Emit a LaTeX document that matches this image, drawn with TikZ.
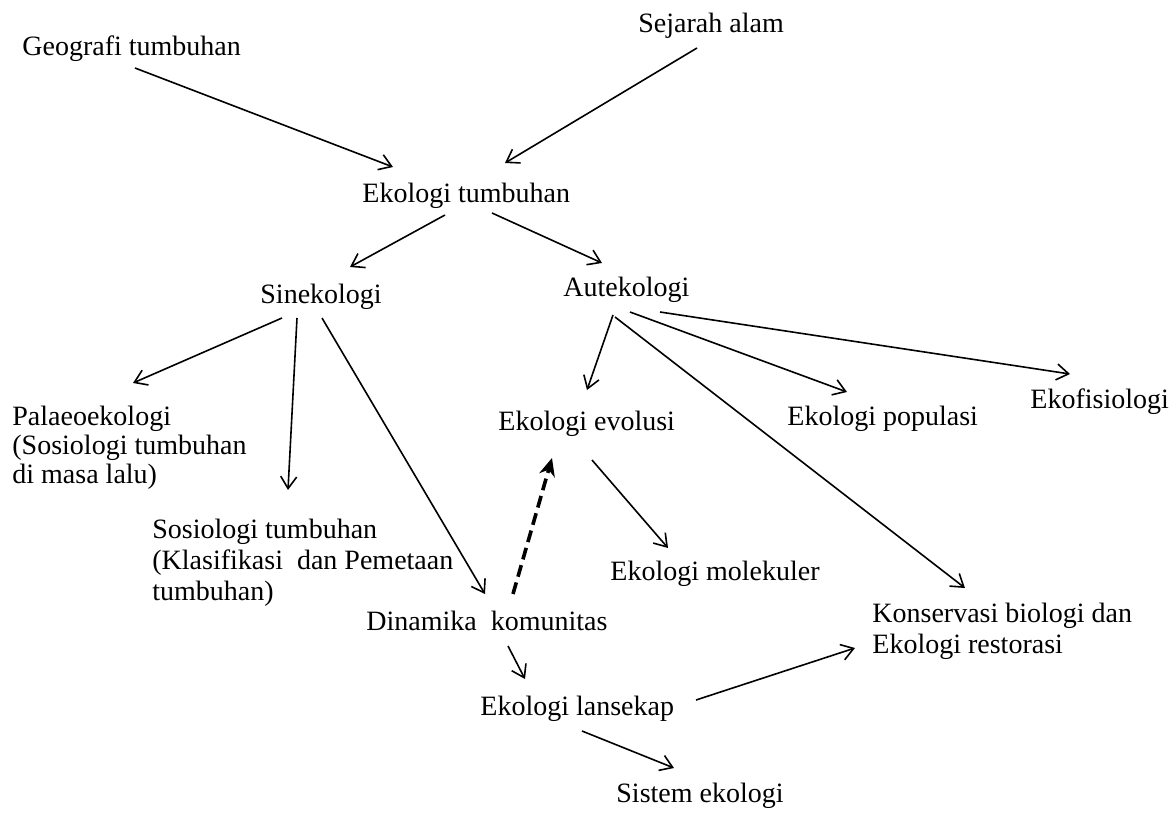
\documentclass[tikz,border=0pt]{standalone}
\usepackage{fontspec}
\setmainfont{Liberation Serif}
\usetikzlibrary{arrows.meta}

\begin{document}
\begin{tikzpicture}
[x=0.5pt, y=-0.5pt,
 txt/.style={inner sep=0pt, anchor=base west, align=left, font=\fontsize{14}{14.5}\selectfont},
 >={Straight Barb[length=6pt,width=8pt]}]

\useasboundingbox (0,0) rectangle (1175,814);

%Nodes (multi-line nodes sit on their last line)
\node[txt] (geografi) at (22,55) {Geografi tumbuhan};
\node[txt] (sejarah) at (638,32) {Sejarah alam};
\node[txt] (ekotumbuhan) at (362,202) {Ekologi tumbuhan};
\node[txt] (sinekologi) at (260,303) {Sinekologi};
\node[txt] (autekologi) at (563,296) {Autekologi};
\node[txt] (palaeo) at (12,483) {Palaeoekologi\\(Sosiologi tumbuhan\\di masa lalu)};
\node[txt] (evolusi) at (498,430) {Ekologi evolusi};
\node[txt] (populasi) at (787,425) {Ekologi populasi};
\node[txt] (ekofis) at (1030,408) {Ekofisiologi};
\node[txt] (sosiologi) at (152,600) {Sosiologi tumbuhan\\[1pt](Klasifikasi\ \ dan Pemetaan\\[1pt]tumbuhan)};
\node[txt] (molekuler) at (610,580) {Ekologi molekuler};
\node[txt] (dinamika) at (366,630) {Dinamika\ \ komunitas};
\node[txt] (konservasi) at (872,653) {Konservasi biologi dan\\[1pt]Ekologi restorasi};
\node[txt] (lansekap) at (480,715) {Ekologi lansekap};
\node[txt] (sistem) at (616,802) {Sistem ekologi};

%Lines
\draw[->, thick] ([shift={(113,13)}]geografi.base west) -- ([shift={(31,-35)}]ekotumbuhan.base west);
\draw[->, thick] ([shift={(59,16)}]sejarah.base west) -- ([shift={(143,-39)}]ekotumbuhan.base west);
\draw[->, thick] ([shift={(83,13)}]ekotumbuhan.base west) -- ([shift={(90,-36)}]sinekologi.base west);
\draw[->, thick] ([shift={(130,11)}]ekotumbuhan.base west) -- ([shift={(39,-33)}]autekologi.base west);
\draw[->, thick] ([shift={(22,15)}]sinekologi.base west) -- ([shift={(121,-100)}]palaeo.base west);
\draw[->, thick] ([shift={(37,15)}]sinekologi.base west) -- ([shift={(136,-110)}]sosiologi.base west);
\draw[->, thick] ([shift={(62,15)}]sinekologi.base west) -- ([shift={(119,-36)}]dinamika.base west);
\draw[->, thick] ([shift={(50,19)}]autekologi.base west) -- ([shift={(89,-40)}]evolusi.base west);
\draw[->, thick] ([shift={(52,21)}]autekologi.base west) -- ([shift={(93,-65)}]konservasi.base west);
\draw[->, thick] ([shift={(67,16)}]autekologi.base west) -- ([shift={(60,-33)}]populasi.base west);
\draw[->, thick] ([shift={(97,16)}]autekologi.base west) -- ([shift={(40,-34)}]ekofis.base west);
\draw[->, thick] ([shift={(94,30)}]evolusi.base west) -- ([shift={(58,-32)}]molekuler.base west);
\draw[-{Stealth[length=9pt,width=8pt]}, line width=1.8pt, dash pattern=on 6pt off 3pt] ([shift={(147,-36)}]dinamika.base west) -- ([shift={(54,28)}]evolusi.base west);
\draw[->, thick] ([shift={(142,16)}]dinamika.base west) -- ([shift={(45,-36)}]lansekap.base west);
\draw[->, thick] ([shift={(216,-15)}]lansekap.base west) -- ([shift={(-17,-5)}]konservasi.base west);
\draw[->, thick] ([shift={(102,16)}]lansekap.base west) -- ([shift={(58,-34)}]sistem.base west);

\end{tikzpicture}
\end{document}
